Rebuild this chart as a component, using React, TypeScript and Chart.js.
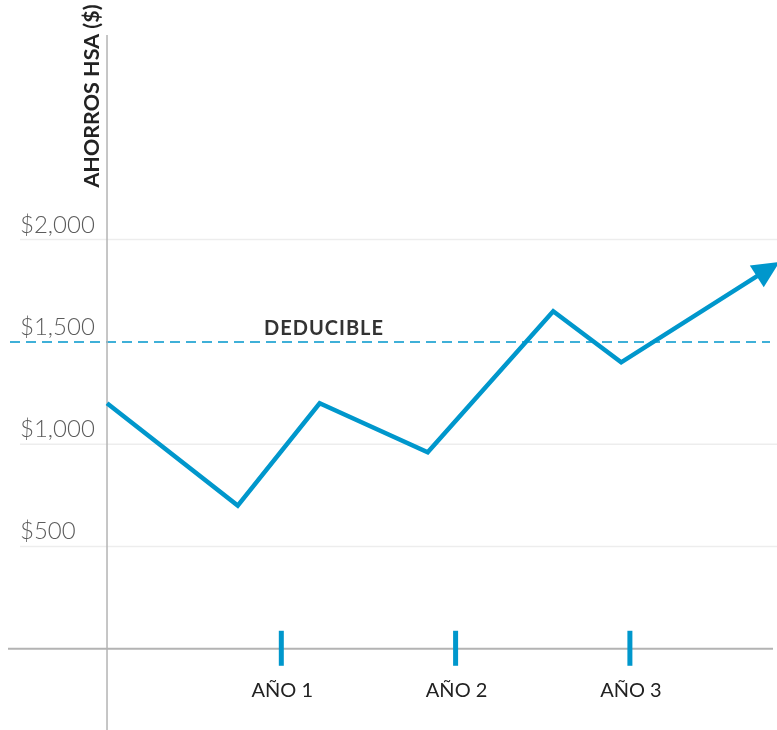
import React, { useEffect, useRef } from "react";
import { Chart, registerables } from "chart.js";

Chart.register(...registerables);

// ---- data ----
const yearTicks = [1, 2, 3];
const yearLabels = ["AÑO 1", "AÑO 2", "AÑO 3"];
const savingsX = [0, 0.75, 1.22, 1.84, 2.56, 2.95, 3.82];
const savingsY = [1200, 700, 1200, 960, 1650, 1400, 1870];
const yTickValues = [500, 1000, 1500, 2000];
const yTickLabels = ["$500", "$1,000", "$1,500", "$2,000"];
const gridValues = [500, 1000, 2000];
const deductible = 1500;
const deductibleLabel = "DEDUCIBLE";
const deductibleLabelX = 1.245;
const axisTitle = "AHORROS HSA ($)";

const BLUE = "#0097cc";

const decorPlugin = {
  id: "decor",
  beforeDatasetsDraw(chart: any) {
    const { ctx, scales } = chart;
    const x = scales.x;
    const y = scales.y;
    const W = chart.width;
    const H = chart.height;
    const x0 = x.getPixelForValue(0);
    ctx.save();

    // grid lines
    ctx.strokeStyle = "#ededed";
    ctx.lineWidth = 1.5;
    gridValues.forEach((v) => {
      const py = y.getPixelForValue(v);
      ctx.beginPath();
      ctx.moveTo(20, py);
      ctx.lineTo(W, py);
      ctx.stroke();
    });

    // y tick labels
    ctx.font = "300 24px Lato";
    ctx.fillStyle = "#5c5c5c";
    ctx.textAlign = "left";
    ctx.textBaseline = "alphabetic";
    yTickValues.forEach((v, i) => {
      ctx.fillText(yTickLabels[i], 20, y.getPixelForValue(v) - 7);
    });

    // deductible dashed line
    const pd = y.getPixelForValue(deductible);
    ctx.strokeStyle = BLUE;
    ctx.lineWidth = 1.5;
    ctx.setLineDash([10, 6]);
    ctx.beginPath();
    ctx.moveTo(10, pd);
    ctx.lineTo(770, pd);
    ctx.stroke();
    ctx.setLineDash([]);

    ctx.font = "bold 20px Lato";
    ctx.fillStyle = "#333333";
    ctx.textAlign = "center";
    (ctx as any).letterSpacing = "1px";
    ctx.fillText(deductibleLabel, x.getPixelForValue(deductibleLabelX), pd - 7);
    (ctx as any).letterSpacing = "0px";

    // axes
    const pz = y.getPixelForValue(0);
    ctx.strokeStyle = "#b3b3b3";
    ctx.lineWidth = 2;
    ctx.beginPath();
    ctx.moveTo(8, pz);
    ctx.lineTo(773, pz);
    ctx.stroke();
    ctx.lineWidth = 1.5;
    ctx.beginPath();
    ctx.moveTo(x0, 35);
    ctx.lineTo(x0, H);
    ctx.stroke();

    // axis title
    ctx.translate(92, 96);
    ctx.rotate(-Math.PI / 2);
    ctx.font = "bold 21.5px Lato";
    ctx.fillStyle = "#222222";
    ctx.textAlign = "center";
    ctx.textBaseline = "middle";
    ctx.fillText(axisTitle, 0, 0);
    ctx.restore();
  },
  afterDatasetsDraw(chart: any) {
    const { ctx, scales } = chart;
    const x = scales.x;
    const y = scales.y;
    const pz = y.getPixelForValue(0);
    ctx.save();

    // year ticks & labels
    yearTicks.forEach((t, i) => {
      const px = x.getPixelForValue(t);
      ctx.fillStyle = BLUE;
      ctx.fillRect(px - 2.5, pz - 18, 5, 35);
      ctx.fillStyle = "#222222";
      ctx.font = "20px Lato";
      ctx.textAlign = "center";
      ctx.textBaseline = "middle";
      ctx.fillText(yearLabels[i], px + 1, pz + 42);
    });

    // arrow head at end of savings line
    const n = savingsX.length;
    const ax = x.getPixelForValue(savingsX[n - 1]);
    const ay = y.getPixelForValue(savingsY[n - 1]);
    const bx = x.getPixelForValue(savingsX[n - 2]);
    const by = y.getPixelForValue(savingsY[n - 2]);
    const len = Math.hypot(ax - bx, ay - by);
    const dx = (ax - bx) / len;
    const dy = (ay - by) / len;
    const tipX = ax + dx * 8;
    const tipY = ay + dy * 8;
    const L = 27;
    const hw = 13;
    const baseX = tipX - dx * L;
    const baseY = tipY - dy * L;
    ctx.fillStyle = BLUE;
    ctx.beginPath();
    ctx.moveTo(tipX, tipY);
    ctx.lineTo(baseX - dy * hw, baseY + dx * hw);
    ctx.lineTo(baseX + dy * hw, baseY - dx * hw);
    ctx.closePath();
    ctx.fill();
    ctx.restore();
  },
};

export default function App() {
  const ref = useRef<HTMLCanvasElement | null>(null);

  useEffect(() => {
    if (!ref.current) return;
    const chart = new Chart(ref.current, {
      type: "line",
      data: {
        datasets: [
          {
            label: "Ahorros HSA",
            data: savingsX.map((v, i) => ({ x: v, y: savingsY[i] })),
            borderColor: BLUE,
            borderWidth: 4.5,
            pointRadius: 0,
            tension: 0,
            borderJoinStyle: "miter",
            borderCapStyle: "butt",
            fill: false,
          },
        ],
      },
      options: {
        responsive: false,
        animation: false,
        layout: { padding: 0 },
        plugins: {
          legend: { display: false },
          tooltip: { enabled: false },
        },
        scales: {
          x: { type: "linear", min: -0.614, max: 3.844, display: false },
          y: { type: "linear", min: -397, max: 3171, display: false },
        },
      },
      plugins: [decorPlugin],
    } as any);
    return () => chart.destroy();
  }, []);

  return (
    <div style={{ position: "absolute", left: 0, top: 0, width: 777, height: 730, background: "#fff" }}>
      <canvas ref={ref} width={777} height={730} style={{ width: 777, height: 730, display: "block" }} />
    </div>
  );
}
